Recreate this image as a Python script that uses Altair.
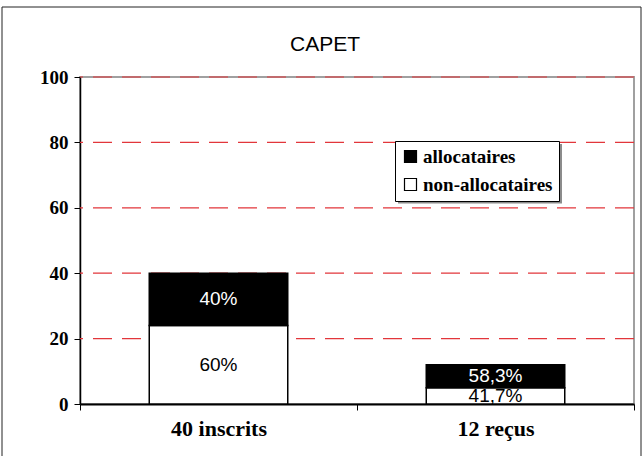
import altair as alt
import pandas as pd

# Data: two groups, share of "allocataires" vs "non-allocataires"
categories = ["40 inscrits", "12 reçus"]
totals = [40, 12]
series = ["allocataires", "non-allocataires"]
pct_allocataires = [40, 58.3]
pct_non_allocataires = [60, 41.7]
labels_allocataires = ["40%", "58,3%"]
labels_non_allocataires = ["60%", "41,7%"]
y_ticks = [0, 20, 40, 60, 80, 100]
grid_values = [20, 40, 60, 80, 100]

rows = []
for cat, tot, pa, pn, la, ln in zip(categories, totals, pct_allocataires,
                                    pct_non_allocataires, labels_allocataires,
                                    labels_non_allocataires):
    v_non = tot * pn / 100
    v_all = tot * pa / 100
    rows.append(dict(groupe=cat, statut="non-allocataires", debut=0.0,
                     fin=v_non, texte=ln))
    rows.append(dict(groupe=cat, statut="allocataires", debut=v_non,
                     fin=v_non + v_all, texte=la))
df = pd.DataFrame(rows)
df["milieu"] = (df["debut"] + df["fin"]) / 2

SERIF = "Liberation Serif"
SANS = "Liberation Sans"

x_scale = alt.Scale(paddingInner=0, paddingOuter=0)
y_scale = alt.Scale(domain=[0, 100], nice=False)

x_axis = alt.Axis(
    title=None, labelAngle=0, labelFont=SERIF, labelFontWeight="bold",
    labelFontSize=22, labelColor="black", labelPadding=8,
    tickSize=6, tickColor="black", tickBand="extent",
    domainColor="black", domainWidth=2, grid=False,
)
y_axis = alt.Axis(
    title=None, values=y_ticks, labelFont=SERIF, labelFontWeight="bold",
    labelFontSize=19, labelColor="black", labelPadding=6,
    tickSize=6, tickColor="black", domainColor="black", domainWidth=1.5,
    grid=False,
)

# dashed red horizontal guides
grid = alt.Chart(pd.DataFrame({"v": grid_values})).mark_rule(
    color="#e2363b", strokeDash=[19, 10], strokeWidth=1.2
).encode(y=alt.Y("v:Q", scale=y_scale, axis=y_axis))

bars = alt.Chart(df).mark_bar(
    stroke="black", strokeWidth=1.5, width=alt.RelativeBandSize(0.5)
).encode(
    x=alt.X("groupe:N", sort=categories, scale=x_scale, axis=x_axis),
    y=alt.Y("debut:Q", scale=y_scale, axis=y_axis),
    y2="fin:Q",
    fill=alt.Fill(
        "statut:N",
        scale=alt.Scale(domain=series, range=["black", "white"]),
        legend=alt.Legend(
            title=None, orient="none", legendX=315, legendY=64,
            direction="vertical", labelFont=SERIF, labelFontWeight="bold",
            labelFontSize=19, labelColor="black", labelOffset=3,
            symbolType="square", symbolSize=144, symbolStrokeColor="black",
            symbolStrokeWidth=1.2, padding=6, rowPadding=8,
            fillColor="white", strokeColor="black", labelLimit=300,
        ),
    ),
)

labels = alt.Chart(df).mark_text(font=SANS, fontSize=19, baseline="middle").encode(
    x=alt.X("groupe:N", sort=categories, scale=x_scale, axis=x_axis),
    y=alt.Y("milieu:Q", scale=y_scale, axis=y_axis),
    text="texte:N",
    color=alt.condition(alt.datum.statut == "allocataires",
                        alt.value("white"), alt.value("black")),
)

deco = pd.DataFrame({"k": [0]})

# outer frame around the whole figure
frame = alt.Chart(deco).mark_rect(
    fill="white", fillOpacity=0, stroke="#222", strokeWidth=1
).encode(x=alt.value(-78), x2=alt.value(561), y=alt.value(-70), y2=alt.value(400))

# thin drop shadow under the legend box
shadow = alt.Chart(deco).mark_rect(fill="#8c8c8c").encode(
    x=alt.value(318), x2=alt.value(482), y=alt.value(67), y2=alt.value(126.5)
)

chart = alt.layer(frame, grid, shadow, bars, labels).properties(
    width=554,
    height=327,
    autosize="none",
    padding={"left": 80, "top": 77, "right": 9, "bottom": 52},
    background="white",
    title=alt.TitleParams(
        "CAPET", font=SANS, fontSize=21, fontWeight="normal", color="black",
        anchor="middle", frame="group", baseline="alphabetic", offset=-65,
        dx=-32,
    ),
).configure_view(stroke="#a0a0a0", strokeWidth=2)

chart.save("out.html", embed_options={"renderer": "svg", "actions": False})
